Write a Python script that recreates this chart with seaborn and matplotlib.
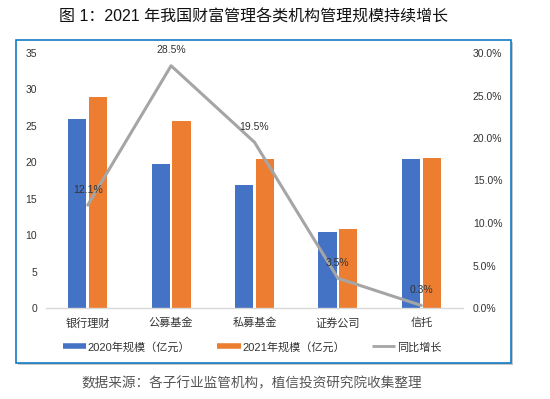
import matplotlib
matplotlib.use('Agg')
import matplotlib.pyplot as plt
import seaborn as sns
import pandas as pd
from matplotlib.patches import Rectangle
from matplotlib.lines import Line2D

categories = ['银行理财', '公募基金', '私募基金', '证券公司', '信托']
scale_2020 = [26.0, 19.8, 16.9, 10.5, 20.5]
scale_2021 = [29.0, 25.6, 20.4, 10.8, 20.6]
growth_pct = [12.1, 28.5, 19.5, 3.5, 0.3]
series_names = ['2020年规模（亿元）', '2021年规模（亿元）']
line_name = '同比增长'
left_ticks = [0, 5, 10, 15, 20, 25, 30, 35]
right_ticks = [0, 5, 10, 15, 20, 25, 30]
title = '图 1：2021 年我国财富管理各类机构管理规模持续增长'
source = '数据来源：各子行业监管机构，植信投资研究院收集整理'

sns.set_theme(style='white')
plt.rcParams['font.family'] = ['Liberation Sans', 'Noto Sans CJK SC']

blue, orange, gray = '#4472c4', '#ed7d31', '#a5a5a5'
txt = '#333333'

df = pd.DataFrame({
    'category': categories * 2,
    'series': [series_names[0]] * len(categories) + [series_names[1]] * len(categories),
    'value': scale_2020 + scale_2021,
})

fig = plt.figure(figsize=(5.5, 3.99), dpi=100)
W, H = 550, 399
ax = fig.add_axes([46 / W, 1 - 308 / H, (463 - 46) / W, (308 - 53) / H])
sns.barplot(data=df, x='category', y='value', hue='series', palette=[blue, orange],
            width=0.5, gap=0.12, saturation=1, linewidth=0, ax=ax, legend=False)
ax.set_xlim(-0.5, len(categories) - 0.5)
ax.set_ylim(0, 35)
ax.set_yticks(left_ticks)
ax.set_yticklabels([str(t) for t in left_ticks])
ax.set_xlabel('')
ax.set_ylabel('')
for s in ['left', 'right', 'top']:
    ax.spines[s].set_visible(False)
ax.spines['bottom'].set_color('#d9d9d9')
ax.spines['bottom'].set_linewidth(1)
ax.tick_params(axis='y', length=0, pad=6.5, labelsize=7.5, labelcolor=txt)
ax.tick_params(axis='x', length=0, pad=7, labelsize=8, labelcolor=txt)
ax.grid(False)

ax2 = ax.twinx()
sns.lineplot(x=categories, y=growth_pct, ax=ax2, color=gray, linewidth=2.2, sort=False)
ax2.set_ylim(0, 30)
ax2.set_yticks(right_ticks)
ax2.set_yticklabels([f'{t:.1f}%' for t in right_ticks])
ax2.set_ylabel('')
for s in ['left', 'right', 'top', 'bottom']:
    ax2.spines[s].set_visible(False)
ax2.tick_params(axis='y', length=0, pad=7, labelsize=7.5, labelcolor=txt)
ax2.grid(False)
for i, v in enumerate(growth_pct):
    ax2.annotate(f'{v:.1f}%', xy=(i, v), xytext=(0, 11), textcoords='offset points',
                 ha='center', va='center', fontsize=7.5, color=txt)

handles = [Line2D([], [], color=blue, lw=4, solid_capstyle='butt'),
           Line2D([], [], color=orange, lw=4, solid_capstyle='butt'),
           Line2D([], [], color=gray, lw=2, solid_capstyle='butt')]
fig.legend(handles, series_names + [line_name], loc='center', ncol=3,
           bbox_to_anchor=(252 / W, 1 - 347 / H), frameon=False, fontsize=8,
           handlelength=2.1, handletextpad=0.15, columnspacing=2.4, labelcolor=txt)

fig.text(254 / W, 1 - 17 / H, title, ha='center', va='center', fontsize=11.5, color='#111111')
fig.text(252 / W, 1 - 383 / H, source, ha='center', va='center', fontsize=9.8, color='#555555')

shadow = Rectangle((18 / W, 1 - 365 / H), (511 - 16) / W, (363 - 40) / H,
                   transform=fig.transFigure, fill=True, facecolor='#c8c8c8',
                   edgecolor='none', zorder=-2)
box_bg = Rectangle((16 / W, 1 - 363 / H), (511 - 16) / W, (363 - 40) / H,
                   transform=fig.transFigure, fill=True, facecolor='white',
                   edgecolor='#0070c0', lw=1.1, zorder=-1)
fig.patches.extend([shadow, box_bg])

fig.savefig('out.png', dpi=100)
